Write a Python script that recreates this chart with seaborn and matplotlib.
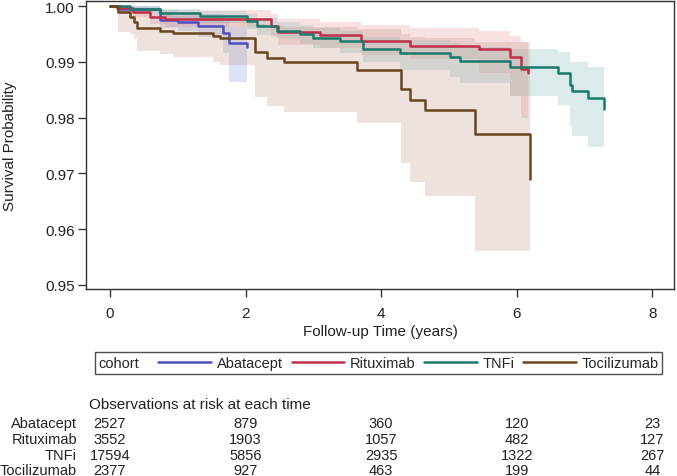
import numpy as np
import pandas as pd
import matplotlib
matplotlib.use("Agg")
import matplotlib.pyplot as plt
from matplotlib.lines import Line2D
from matplotlib.offsetbox import HPacker
import matplotlib.transforms as mtransforms
import seaborn as sns

# ---------------- data ----------------
cohorts = ["Abatacept", "Rituximab", "TNFi", "Tocilizumab"]

aba_t = [0, 0.15, 0.74, 1.00, 1.30, 1.66, 1.76, 2.02]
aba_s = [1.0, 0.9995, 0.9975, 0.9972, 0.9965, 0.9951, 0.9933, 0.9926]
aba_lo = [1.0, 0.9985, 0.9960, 0.9955, 0.9945, 0.9915, 0.9864, 0.9864]
aba_hi = [1.0, 1.0, 0.9992, 0.9990, 0.9985, 0.9975, 0.9962, 0.9962]

rit_t = [0, 0.15, 0.34, 0.59, 0.81, 2.37, 2.48, 3.10, 3.70, 4.42, 5.44, 5.90, 6.07, 6.17]
rit_s = [1.0, 0.9996, 0.9989, 0.9980, 0.9977, 0.9965, 0.9953, 0.9948, 0.9938, 0.9929,
         0.9923, 0.9908, 0.9887, 0.9880]
rit_lo = [1.0, 0.9990, 0.9980, 0.9968, 0.9963, 0.9945, 0.9930, 0.9925, 0.9912, 0.9905,
          0.9880, 0.9839, 0.9800, 0.9800]
rit_hi = [1.0, 1.0, 0.9999, 0.9995, 0.9992, 0.9985, 0.9977, 0.9972, 0.9966, 0.9960,
          0.9955, 0.9946, 0.9935, 0.9935]

tnf_t = [0, 0.29, 0.74, 1.33, 2.02, 2.17, 2.46, 2.80, 2.99, 3.39, 3.73, 4.28, 5.01, 5.16,
         5.90, 6.61, 6.78, 6.81, 7.05, 7.29]
tnf_s = [1.0, 0.9995, 0.9987, 0.9982, 0.9973, 0.9964, 0.9955, 0.9950, 0.9943, 0.9937,
         0.9923, 0.9916, 0.9909, 0.9901, 0.9891, 0.9880, 0.9858, 0.9848, 0.9835, 0.9815]
tnf_lo = [1.0, 0.9990, 0.9978, 0.9970, 0.9958, 0.9948, 0.9940, 0.9932, 0.9924, 0.9916,
          0.9900, 0.9885, 0.9872, 0.9862, 0.9839, 0.9823, 0.9785, 0.9767, 0.9747, 0.9747]
tnf_hi = [1.0, 1.0, 0.9995, 0.9991, 0.9985, 0.9978, 0.9971, 0.9966, 0.9960, 0.9955,
          0.9945, 0.9939, 0.9933, 0.9927, 0.9923, 0.9917, 0.9899, 0.9899, 0.9891, 0.9891]

toc_t = [0, 0.10, 0.125, 0.29, 0.35, 0.40, 0.74, 0.93, 1.52, 1.62, 2.14, 2.31, 2.56, 3.64,
         4.29, 4.42, 4.64, 5.39, 6.19]
toc_s = [1.0, 0.9996, 0.9989, 0.9980, 0.9971, 0.9961, 0.9955, 0.9951, 0.9946, 0.9942,
         0.9917, 0.9906, 0.9899, 0.9885, 0.9851, 0.9832, 0.9814, 0.9771, 0.9690]
toc_lo = [1.0, 0.9986, 0.9953, 0.9950, 0.9941, 0.9919, 0.9914, 0.9909, 0.9900, 0.9894,
          0.9837, 0.9821, 0.9810, 0.9790, 0.9719, 0.9685, 0.9659, 0.9561, 0.9561]
toc_hi = [1.0, 1.0, 0.9998, 0.9996, 0.9993, 0.9988, 0.9985, 0.9983, 0.9980, 0.9978,
          0.9968, 0.9964, 0.9962, 0.9958, 0.9950, 0.9945, 0.9942, 0.9935, 0.9935]

risk_times = [0, 2, 4, 6, 8]
risk_aba = [2527, 879, 360, 120, 23]
risk_rit = [3552, 1903, 1057, 482, 127]
risk_tnf = [17594, 5856, 2935, 1322, 267]
risk_toc = [2377, 927, 463, 199, 44]

xticks = [0, 2, 4, 6, 8]
yticks = [0.95, 0.96, 0.97, 0.98, 0.99, 1.00]

# ---------------- style ----------------
line_colors = {"Abatacept": "#4F4FC0", "Rituximab": "#C02E4A",
               "TNFi": "#1C7A6B", "Tocilizumab": "#6A461E"}
band_colors = {"Abatacept": ("#7f8fd8", 0.25), "Rituximab": ("#e88a8a", 0.25),
               "TNFi": ("#80b8b8", 0.28), "Tocilizumab": ("#c0988a", 0.28)}

sns.set_style("ticks")
plt.rcParams["font.family"] = ["Liberation Sans", "DejaVu Sans"]
FS = 10.5
FL = 11

series = {
    "Abatacept": (aba_t, aba_s, aba_lo, aba_hi),
    "Rituximab": (rit_t, rit_s, rit_lo, rit_hi),
    "TNFi": (tnf_t, tnf_s, tnf_lo, tnf_hi),
    "Tocilizumab": (toc_t, toc_s, toc_lo, toc_hi),
}
frames = []
for c in cohorts:
    t, s, lo, hi = series[c]
    frames.append(pd.DataFrame({"time": t, "surv": s, "lower": lo, "upper": hi, "cohort": c}))
df = pd.concat(frames, ignore_index=True)

W, H = 677, 477
fig = plt.figure(figsize=(W / 100, H / 100), dpi=100)
ax = fig.add_axes([86 / W, 1 - 290 / H, (674 - 86) / W, (290 - 2) / H])

for c in cohorts:
    d = df[df.cohort == c]
    col, a = band_colors[c]
    ax.fill_between(d.time, d.lower, d.upper, step="post", color=col, alpha=a, lw=0)

sns.lineplot(data=df, x="time", y="surv", hue="cohort", hue_order=cohorts,
             palette=line_colors, estimator=None, drawstyle="steps-post",
             lw=1.8, legend=False, ax=ax)

ax.set_xlim(-0.354, 8.32)
ax.set_ylim(0.94928, 1.0009)
ax.set_xticks(xticks)
ax.set_xticklabels([str(v) for v in xticks])
ax.set_yticks(yticks)
ax.set_yticklabels([f"{v:.2f}" for v in yticks])
ax.tick_params(axis="both", labelsize=FL, length=6, width=1, color="#333333",
               labelcolor="#222222")
ax.tick_params(axis="x", pad=6)
ax.tick_params(axis="y", pad=2)
for sp in ax.spines.values():
    sp.set_visible(True)
    sp.set_color("#333333")
    sp.set_linewidth(1.0)

ax.set_xlabel("Follow-up Time (years)", fontsize=FL, color="#222222")
ax.set_ylabel("Survival Probability", fontsize=FL, color="#222222")
ax.xaxis.set_label_coords(0.5, (290 - 325) / 288)
ax.yaxis.set_label_coords((17 - 86) / 588, 0.5)

# ---------------- legend (title inline) ----------------
handles = [Line2D([], [], color=line_colors[c], lw=1.8) for c in cohorts]
leg = fig.legend(handles, cohorts, title="cohort", ncol=4, loc="center",
                 bbox_to_anchor=((93 + 664) / 2 / W, 1 - 364 / H),
                 fontsize=FS, title_fontsize=FS, frameon=True, fancybox=False,
                 edgecolor="#222222", handlelength=3.6, handletextpad=0.4,
                 columnspacing=0.6, borderpad=0.25, borderaxespad=0)
leg.get_frame().set_linewidth(1.0)
fs_px = leg._fontsize
box = HPacker(pad=leg.borderpad * fs_px, sep=14, align="center",
              children=[leg._legend_title_box, leg._legend_handle_box])
box.set_figure(fig)
box.set_offset(leg._findoffset)
leg._legend_box = box

# ---------------- at-risk table ----------------
fig.text(89 / W, 1 - 405 / H, "Observations at risk at each time", fontsize=FL,
         ha="left", va="center", color="#222222")
trans = mtransforms.blended_transform_factory(ax.transData, fig.transFigure)
rows = [("Abatacept", risk_aba, 424), ("Rituximab", risk_rit, 440),
        ("TNFi", risk_tnf, 456), ("Tocilizumab", risk_toc, 471)]
for name, vals, ypx in rows:
    fig.text(77 / W, 1 - ypx / H, name, fontsize=FS, ha="right", va="center",
             color="#222222")
    for tt, v in zip(risk_times, vals):
        ax.text(tt, 1 - ypx / H, str(v), transform=trans, fontsize=FS,
                ha="center", va="center", color="#222222", clip_on=False)

fig.savefig("out.png", dpi=100)
